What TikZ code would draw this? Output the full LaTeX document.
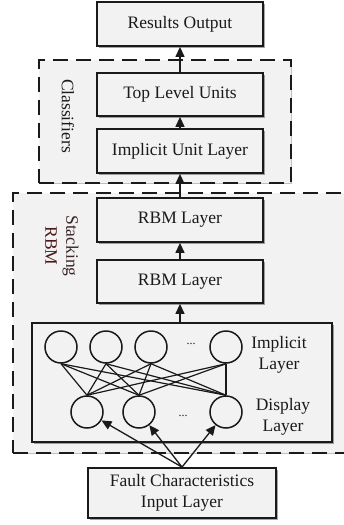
\documentclass[tikz,border=0pt]{standalone}
\usepackage{fontspec}
\setmainfont{Liberation Serif}
\usetikzlibrary{arrows.meta,shadows}
\definecolor{panel}{HTML}{F2F2F2}
\definecolor{ink}{HTML}{1A1A1A}
\definecolor{stacktxt}{HTML}{3A2626}
\definecolor{rbmtxt}{HTML}{4A1818}
\tikzset{
  lbl/.style={font=\fontsize{17.5}{21}\selectfont, text=ink},
  layerbox/.style={draw=ink, line width=1.8pt, fill=panel, inner sep=0pt,
    minimum width=166pt, lbl, align=center,
    drop shadow={shadow xshift=1.6pt, shadow yshift=-1.6pt, opacity=0.35, fill=black}},
  groupbox/.style={draw=ink, line width=1.8pt, dash pattern=on 15pt off 8pt,
    fill=panel, inner sep=0pt,
    drop shadow={shadow xshift=1.2pt, shadow yshift=-1.2pt, opacity=0.25, fill=black}},
  unit/.style={circle, draw=ink, line width=1.5pt, fill=panel, minimum size=32pt, inner sep=0pt},
  uparrow/.style={draw=ink, line width=1.3pt, -{Triangle[width=9pt,length=10pt]}},
  link/.style={draw=ink, line width=1.2pt},
}
\begin{document}
\begin{tikzpicture}[x=1pt,y=-1pt]
\useasboundingbox (0,0) rectangle (344,525);

% group frames
\node[groupbox, minimum width=252pt, minimum height=123pt] (clsbox) at (165,121.5) {};
\node[groupbox, minimum width=333pt, minimum height=260pt] (rbmbox) at (179.5,323) {};

% group captions
\node[lbl, rotate=270] (clscap) at (68,116) {Classifiers};
\node[lbl, rotate=270, align=center] (rbmcap) at (62,246)
  {\textcolor{stacktxt}{Stacking}\\\textcolor{rbmtxt}{RBM}};

% stacked layers
\node[layerbox, minimum height=44pt] (out) at (180,24) {Results Output};
\node[layerbox, minimum height=43pt] (top) at (180,94.5) {Top Level Units};
\node[layerbox, minimum height=44pt] (hid) at (180,151) {Implicit Unit Layer};
\node[layerbox, minimum height=44pt] (rbma) at (180,220) {RBM Layer};
\node[layerbox, minimum height=43pt] (rbmb) at (180,281.5) {RBM Layer};
\node[layerbox, minimum width=300pt, minimum height=119pt] (net) at (182,382.5) {};
\node[layerbox, minimum width=188pt, minimum height=50pt] (inp) at (182,493)
  {Fault Characteristics\\Input Layer};

% restricted Boltzmann machine units
\node[unit] (h1) at (61,347) {};
\node[unit] (h2) at (106,347) {};
\node[unit] (h3) at (151,347) {};
\node[unit] (h4) at (226,347) {};
\node[unit] (v1) at (87,412) {};
\node[unit] (v2) at (139,412) {};
\node[unit] (v3) at (226,412) {};
\node[lbl, font=\fontsize{12}{14}\selectfont] (hdots) at (191,344) {...};
\node[lbl, font=\fontsize{12}{14}\selectfont] (vdots) at (183,416) {...};
\node[lbl, align=center] (hcap) at (279,355) {Implicit\\Layer};
\node[lbl, align=center] (vcap) at (283,417) {Display\\Layer};

% full bipartite connections
\foreach \h in {h1,h2,h3,h4}
  \foreach \v in {v1,v2,v3}
    \draw[link] (\h.south) -- (\v.north);

% upward flow
\draw[uparrow] (top.north) -- (out.south);
\draw[uparrow] (hid.north) -- (top.south);
\draw[uparrow] (rbma.north) -- (hid.south);
\draw[uparrow] (rbmb.north) -- (rbma.south);
\draw[uparrow] (rbmb.south |- net.north) -- (rbmb.south);
\foreach \v in {v1,v2,v3}
  \draw[uparrow] (inp.north) -- (\v);
\end{tikzpicture}
\end{document}
